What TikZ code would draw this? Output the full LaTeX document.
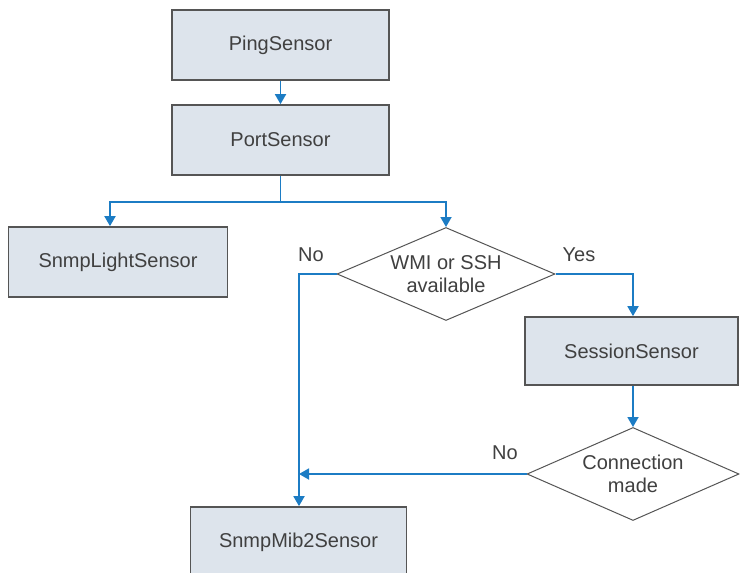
\documentclass[tikz,border=0pt]{standalone}
\usepackage{fontspec}
\setmainfont{Liberation Sans}
\usepackage{tikz}
\usetikzlibrary{shapes.geometric,arrows.meta,calc}
\definecolor{boxfill}{HTML}{DDE4EC}
\definecolor{boxline}{HTML}{555555}
\definecolor{flowblue}{HTML}{1C7CC4}
\definecolor{txt}{HTML}{404040}

\begin{document}
\begin{tikzpicture}[x=1pt,y=-1pt,
    font=\fontsize{20}{23}\selectfont, text=txt,
    sensor/.style={draw=boxline,line width=1.7pt,fill=boxfill,minimum width=217pt,minimum height=70pt},
    decision/.style={diamond,draw=boxline,line width=1pt,fill=white,inner sep=0pt,aspect=2.3,align=center},
    flow/.style={draw=flowblue,line width=1.8pt,-{Triangle[width=11pt,length=10pt]}},
    lbl/.style={inner sep=0pt}]
    \useasboundingbox (0,0) rectangle (740,573);

    % Sensors
    \node[sensor] (ping) at (280.5,45) {PingSensor};
    \node[sensor] (port) at (280.5,140) {PortSensor};
    \node[sensor,minimum width=219pt] (light) at (118,262) {SnmpLightSensor};
    \node[sensor,minimum width=213pt,minimum height=68pt] (session) at (631.5,351) {SessionSensor};
    \node[sensor,minimum width=216pt] (mib) at (298.5,542) {SnmpMib2Sensor};

    % Decisions
    \node[decision,minimum width=218pt,minimum height=93pt] (wmi) at (446,274) {WMI or SSH\\available};
    \node[decision,minimum width=212pt,minimum height=93pt] (conn) at (633,474) {Connection\\made};

    % Connections
    \coordinate (split) at ($(port.south)+(0,26)$);
    \coordinate (join) at (299,474);
    \draw[flow] (ping) -- (port);
    \draw[flow,-] (port.south) -- (split);
    \draw[flow] (split) -| ([xshift=-8pt]light.north);
    \draw[flow] (split) -| (wmi.north);
    \draw[flow] (wmi.east) -| ([xshift=1.5pt]session.north);
    \draw[flow] (wmi.west) -| (join) -- ([xshift=0.5pt]mib.north);
    \draw[flow] (session.south -| conn.north) -- (conn.north);
    \draw[flow] (conn.west) -- (join);

    % Labels
    \node[lbl] (no1) at (311,255) {No};
    \node[lbl] (yes) at (579,255) {Yes};
    \node[lbl] (no2) at (505,453) {No};
\end{tikzpicture}
\end{document}
